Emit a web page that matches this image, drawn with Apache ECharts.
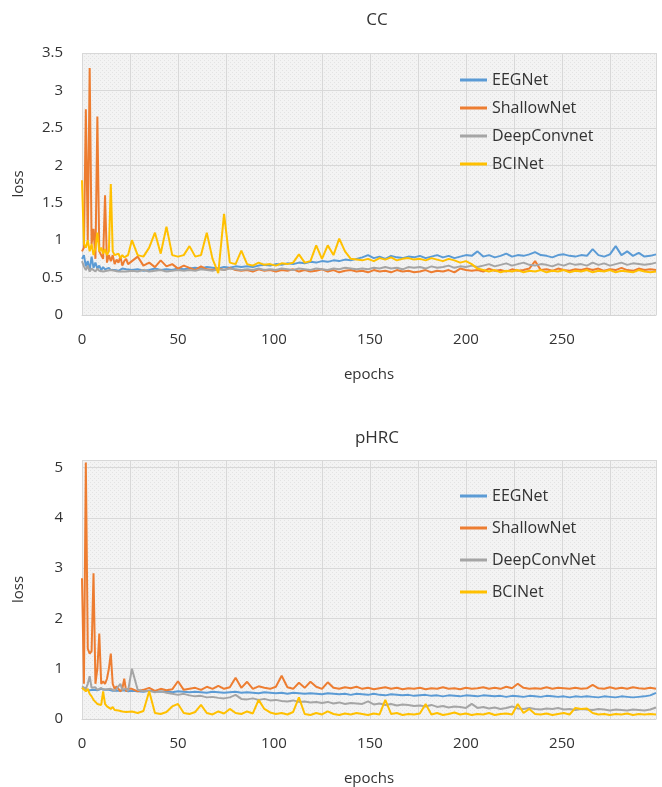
<!DOCTYPE html>
<html>
<head>
<meta charset="utf-8">
<script src="https://cdn.jsdelivr.net/npm/echarts@6/dist/echarts.min.js"></script>
<style>
  html, body { margin: 0; padding: 0; background: #fff; }
  #chart { width: 662px; height: 787px; }
</style>
</head>
<body>
<div id="chart"></div>
<script>
// epochs sampled: every epoch up to 24, then every 3rd epoch
const epochs = []
for (let e = 0; e <= 24; e++) epochs.push(e)
for (let e = 26; e <= 299; e += 3) epochs.push(e)

const titles = ['CC', 'pHRC']
const namesCC = ['EEGNet', 'ShallowNet', 'DeepConvnet', 'BCINet']
const namesHRC = ['EEGNet', 'ShallowNet', 'DeepConvNet', 'BCINet']
const xTicks = [0, 50, 100, 150, 200, 250]

/* CC loss */
const ccEEGNet = [
  0.75,0.8,0.65,0.72,0.6,0.78,0.63,0.7,0.62,0.66, 0.6,0.64,0.61,0.6,0.63,0.6,0.62,0.6,0.61,0.59, 0.6,0.62,0.6,0.61,0.6,
  0.6,0.61,0.59,0.6,0.62,0.6,0.61,0.6,0.62,0.61,
  0.62,0.63,0.62,0.64,0.63,0.62,0.64,0.63,0.65,0.64,
  0.65,0.64,0.66,0.67,0.66,0.68,0.67,0.69,0.68,0.7,
  0.69,0.71,0.7,0.72,0.71,0.73,0.72,0.74,0.73,0.75,
  0.77,0.8,0.76,0.78,0.75,0.79,0.77,0.76,0.78,0.77,
  0.79,0.76,0.78,0.8,0.77,0.79,0.76,0.78,0.8,0.79,
  0.85,0.78,0.8,0.77,0.79,0.82,0.78,0.8,0.79,0.81,
  0.84,0.8,0.79,0.77,0.8,0.81,0.79,0.78,0.8,0.79,
  0.88,0.8,0.78,0.81,0.92,0.8,0.85,0.79,0.83,0.78,
  0.79,0.81
]
const ccShallowNet = [
  0.85,0.9,2.75,1.0,3.3,0.95,1.15,0.75,2.65,0.85, 0.8,0.75,1.6,0.7,0.8,0.72,0.8,0.68,0.74,0.7, 0.78,0.66,0.72,0.75,0.68,
  0.72,0.78,0.66,0.7,0.64,0.73,0.65,0.68,0.62,0.66,
  0.63,0.6,0.65,0.61,0.6,0.62,0.6,0.63,0.6,0.59,
  0.6,0.58,0.61,0.59,0.6,0.58,0.6,0.59,0.61,0.58,
  0.6,0.58,0.59,0.61,0.58,0.6,0.57,0.59,0.6,0.58,
  0.59,0.57,0.6,0.58,0.59,0.57,0.6,0.58,0.59,0.57,
  0.58,0.6,0.57,0.59,0.58,0.6,0.57,0.62,0.6,0.59,
  0.6,0.58,0.62,0.59,0.6,0.58,0.61,0.59,0.6,0.62,
  0.72,0.6,0.61,0.59,0.62,0.6,0.59,0.61,0.6,0.62,
  0.6,0.62,0.59,0.61,0.6,0.63,0.6,0.59,0.62,0.6,
  0.61,0.6
]
const ccDeepConvnet = [
  0.72,0.65,0.6,0.66,0.58,0.62,0.6,0.58,0.62,0.59, 0.6,0.58,0.6,0.59,0.58,0.6,0.58,0.59,0.6,0.58, 0.59,0.58,0.6,0.58,0.59,
  0.59,0.58,0.6,0.58,0.59,0.6,0.58,0.59,0.6,0.59,
  0.6,0.59,0.61,0.6,0.59,0.61,0.6,0.62,0.61,0.6,
  0.61,0.6,0.62,0.6,0.61,0.6,0.62,0.61,0.6,0.62,
  0.61,0.6,0.62,0.61,0.6,0.62,0.61,0.63,0.62,0.61,
  0.62,0.61,0.63,0.62,0.64,0.62,0.63,0.61,0.64,0.63,
  0.64,0.62,0.65,0.63,0.64,0.66,0.63,0.65,0.64,0.66,
  0.64,0.66,0.68,0.65,0.67,0.69,0.66,0.68,0.7,0.67,
  0.66,0.68,0.67,0.65,0.68,0.66,0.69,0.67,0.68,0.66,
  0.7,0.67,0.69,0.66,0.68,0.7,0.67,0.69,0.68,0.67,
  0.68,0.7
]
const ccBCINet = [
  1.8,0.95,0.9,1.0,0.85,0.95,0.8,0.9,1.1,0.85, 0.9,0.82,0.88,0.8,0.85,1.75,0.85,0.8,0.78,0.82, 0.76,0.8,0.77,0.78,0.8,
  1.0,0.8,0.78,0.9,1.1,0.82,1.18,0.8,0.78,0.8,
  0.92,0.78,0.8,1.1,0.75,0.56,1.35,0.7,0.68,0.86,
  0.68,0.66,0.7,0.67,0.68,0.66,0.69,0.68,0.7,0.81,
  0.7,0.72,0.93,0.75,0.93,0.8,1.02,0.85,0.75,0.74,
  0.73,0.75,0.72,0.76,0.74,0.77,0.73,0.75,0.76,0.74,
  0.75,0.73,0.76,0.74,0.72,0.75,0.73,0.7,0.72,0.68,
  0.62,0.6,0.58,0.6,0.57,0.59,0.58,0.6,0.57,0.59,
  0.58,0.6,0.57,0.59,0.58,0.6,0.57,0.59,0.58,0.6,
  0.57,0.59,0.58,0.6,0.57,0.59,0.58,0.57,0.6,0.58,
  0.57,0.58
]

/* pHRC loss */
const hrcEEGNet = [
  0.62,0.6,0.58,0.6,0.57,0.6,0.58,0.59,0.57,0.58, 0.6,0.57,0.58,0.56,0.58,0.57,0.56,0.58,0.56,0.57, 0.56,0.55,0.57,0.56,0.55,
  0.56,0.55,0.54,0.56,0.55,0.54,0.55,0.53,0.55,0.54,
  0.53,0.54,0.53,0.52,0.54,0.53,0.52,0.53,0.54,0.52,
  0.53,0.52,0.51,0.53,0.52,0.51,0.52,0.5,0.52,0.51,
  0.5,0.51,0.5,0.49,0.51,0.5,0.49,0.5,0.48,0.5,
  0.49,0.48,0.5,0.48,0.47,0.49,0.48,0.47,0.48,0.46,
  0.47,0.48,0.46,0.47,0.45,0.47,0.46,0.45,0.47,0.46,
  0.45,0.47,0.46,0.45,0.46,0.44,0.46,0.45,0.44,0.46,
  0.45,0.44,0.46,0.45,0.44,0.45,0.43,0.45,0.44,0.45,
  0.44,0.43,0.45,0.44,0.43,0.45,0.44,0.43,0.44,0.45,
  0.47,0.52
]
const hrcShallowNet = [
  2.8,0.7,5.1,1.4,1.3,1.35,2.9,0.7,1.0,1.7, 0.7,0.75,0.7,0.8,1.0,1.3,0.7,0.6,0.65,0.6, 0.55,0.6,0.8,0.55,0.6,
  0.6,0.55,0.58,0.62,0.56,0.6,0.57,0.59,0.75,0.58,
  0.6,0.62,0.58,0.64,0.6,0.66,0.6,0.63,0.82,0.62,
  0.74,0.6,0.65,0.62,0.6,0.64,0.86,0.63,0.6,0.72,
  0.62,0.74,0.64,0.6,0.73,0.62,0.6,0.63,0.61,0.64,
  0.6,0.62,0.59,0.61,0.63,0.6,0.62,0.59,0.61,0.6,
  0.62,0.59,0.61,0.6,0.63,0.6,0.61,0.59,0.62,0.6,
  0.61,0.63,0.6,0.62,0.6,0.64,0.61,0.7,0.62,0.6,
  0.61,0.6,0.63,0.6,0.62,0.61,0.6,0.62,0.6,0.61,
  0.68,0.61,0.6,0.63,0.6,0.62,0.6,0.63,0.61,0.6,
  0.62,0.6
]
const hrcDeepConvNet = [
  0.65,0.62,0.6,0.7,0.85,0.62,0.6,0.63,0.58,0.6, 0.62,0.58,0.6,0.59,0.57,0.6,0.58,0.56,0.6,0.62, 0.7,0.58,0.57,0.6,0.56,
  1.0,0.58,0.55,0.56,0.53,0.55,0.52,0.5,0.48,0.5,
  0.47,0.45,0.46,0.43,0.44,0.42,0.41,0.43,0.48,0.4,
  0.39,0.41,0.38,0.4,0.37,0.38,0.36,0.35,0.37,0.34,
  0.35,0.33,0.34,0.32,0.34,0.31,0.33,0.3,0.32,0.31,
  0.3,0.35,0.29,0.31,0.28,0.3,0.27,0.29,0.28,0.26,
  0.27,0.25,0.28,0.24,0.26,0.23,0.25,0.24,0.22,0.3,
  0.22,0.24,0.21,0.23,0.2,0.22,0.25,0.21,0.2,0.22,
  0.2,0.19,0.21,0.2,0.22,0.19,0.2,0.18,0.2,0.19,
  0.18,0.2,0.19,0.17,0.19,0.18,0.17,0.19,0.18,0.17,
  0.19,0.23
]
const hrcBCINet = [
  0.62,0.6,0.55,0.6,0.5,0.45,0.38,0.35,0.3,0.32, 0.28,0.55,0.3,0.25,0.22,0.2,0.24,0.18,0.2,0.17, 0.19,0.15,0.18,0.14,0.16,
  0.15,0.12,0.16,0.55,0.12,0.1,0.14,0.25,0.3,0.12,
  0.1,0.14,0.28,0.12,0.09,0.15,0.11,0.2,0.12,0.1,
  0.15,0.11,0.38,0.2,0.13,0.1,0.12,0.09,0.14,0.43,
  0.1,0.08,0.12,0.09,0.15,0.1,0.08,0.11,0.09,0.12,
  0.1,0.08,0.11,0.09,0.38,0.1,0.12,0.08,0.1,0.09,
  0.11,0.3,0.09,0.12,0.08,0.1,0.13,0.09,0.11,0.08,
  0.1,0.09,0.12,0.08,0.1,0.11,0.09,0.3,0.12,0.2,
  0.1,0.09,0.11,0.08,0.1,0.12,0.09,0.22,0.2,0.21,
  0.12,0.09,0.1,0.08,0.1,0.09,0.11,0.08,0.1,0.09,
  0.1,0.09
]

const COLORS = ['#5B9BD5', '#ED7D31', '#A5A5A5', '#FFC000']
const FONT = '"Open Sans", "Noto Sans", sans-serif'
const TEXT = '#333'

// light dotted texture like the plot area fill
const tex = document.createElement('canvas')
tex.width = 4; tex.height = 4
const tctx = tex.getContext('2d')
tctx.fillStyle = '#f3f3f3'
tctx.fillRect(0, 0, 4, 4)
tctx.fillStyle = '#e3e3e3'
tctx.fillRect(0, 0, 1, 1); tctx.fillRect(2, 2, 1, 1)
const plotFill = { image: tex, repeat: 'repeat' }

const pairs = (vals) => vals.map((v, i) => [epochs[i], v])

const makeX = (gridIndex) => ({
  type: 'value', gridIndex, min: 0, max: 299, interval: 25,
  name: 'epochs', nameLocation: 'middle', nameGap: 52,
  nameTextStyle: { color: TEXT, fontSize: 15, fontFamily: FONT },
  axisLine: { show: true, lineStyle: { color: '#d4d4d4' } },
  axisTick: { show: false },
  axisLabel: {
    color: TEXT, fontSize: 15, fontFamily: FONT, margin: 17,
    formatter: (v) => (xTicks.includes(v) ? String(v) : '')
  },
  splitLine: { show: true, lineStyle: { color: '#d8d8d8', width: 1 } }
})

const makeY = (gridIndex, max, interval) => ({
  type: 'value', gridIndex, min: 0, max, interval,
  name: 'loss', nameLocation: 'middle', nameGap: 56,
  nameTextStyle: { color: TEXT, fontSize: 15, fontFamily: FONT },
  axisLine: { show: false }, axisTick: { show: false },
  axisLabel: {
    color: TEXT, fontSize: 15, fontFamily: FONT, margin: 19,
    formatter: (v) => (Math.abs(v / interval - Math.round(v / interval)) < 1e-6 ? String(v) : '')
  },
  splitLine: { show: true, lineStyle: { color: '#d8d8d8', width: 1 } }
})

const makeSeries = (names, data, idx) => names.map((n, i) => ({
  name: n, type: 'line', xAxisIndex: idx, yAxisIndex: idx,
  data: pairs(data[i]), symbol: 'none', showSymbol: false,
  lineStyle: { width: 2, color: COLORS[i] }, itemStyle: { color: COLORS[i] },
  z: 2 + (i === 3 ? 1 : 0)
}))

const chart = echarts.init(document.getElementById('chart'), null, { renderer: 'canvas' })

chart.setOption({
  animation: false,
  backgroundColor: '#fff',
  title: [
    { text: titles[0], left: 372, top: 7, textAlign: 'center',
      textStyle: { color: TEXT, fontSize: 17, fontWeight: 'normal', fontFamily: FONT } },
    { text: titles[1], left: 372, top: 425, textAlign: 'center',
      textStyle: { color: TEXT, fontSize: 17, fontWeight: 'normal', fontFamily: FONT } }
  ],
  legend: [
    { data: namesCC, orient: 'vertical', left: 455, top: 67, itemGap: 12, itemWidth: 27, itemHeight: 3,
      icon: 'rect', textStyle: { color: TEXT, fontSize: 16, fontFamily: FONT }, selectedMode: false },
    { data: namesHRC, orient: 'vertical', left: 455, top: 483, itemGap: 16, itemWidth: 27, itemHeight: 3,
      icon: 'rect', textStyle: { color: TEXT, fontSize: 16, fontFamily: FONT }, selectedMode: false }
  ],
  grid: [
    { left: 82, top: 53, width: 574, height: 262, show: true, backgroundColor: plotFill, borderWidth: 0 },
    { left: 82, top: 460, width: 574, height: 263, show: true, backgroundColor: plotFill, borderWidth: 0 }
  ],
  xAxis: [makeX(0), makeX(1)],
  yAxis: [makeY(0, 3.5, 0.5), makeY(1, 5.15, 1)],
  series: [
    ...makeSeries(namesCC, [ccEEGNet, ccShallowNet, ccDeepConvnet, ccBCINet], 0),
    ...makeSeries(namesHRC, [hrcEEGNet, hrcShallowNet, hrcDeepConvNet, hrcBCINet], 1)
  ]
})
</script>
</body>
</html>
